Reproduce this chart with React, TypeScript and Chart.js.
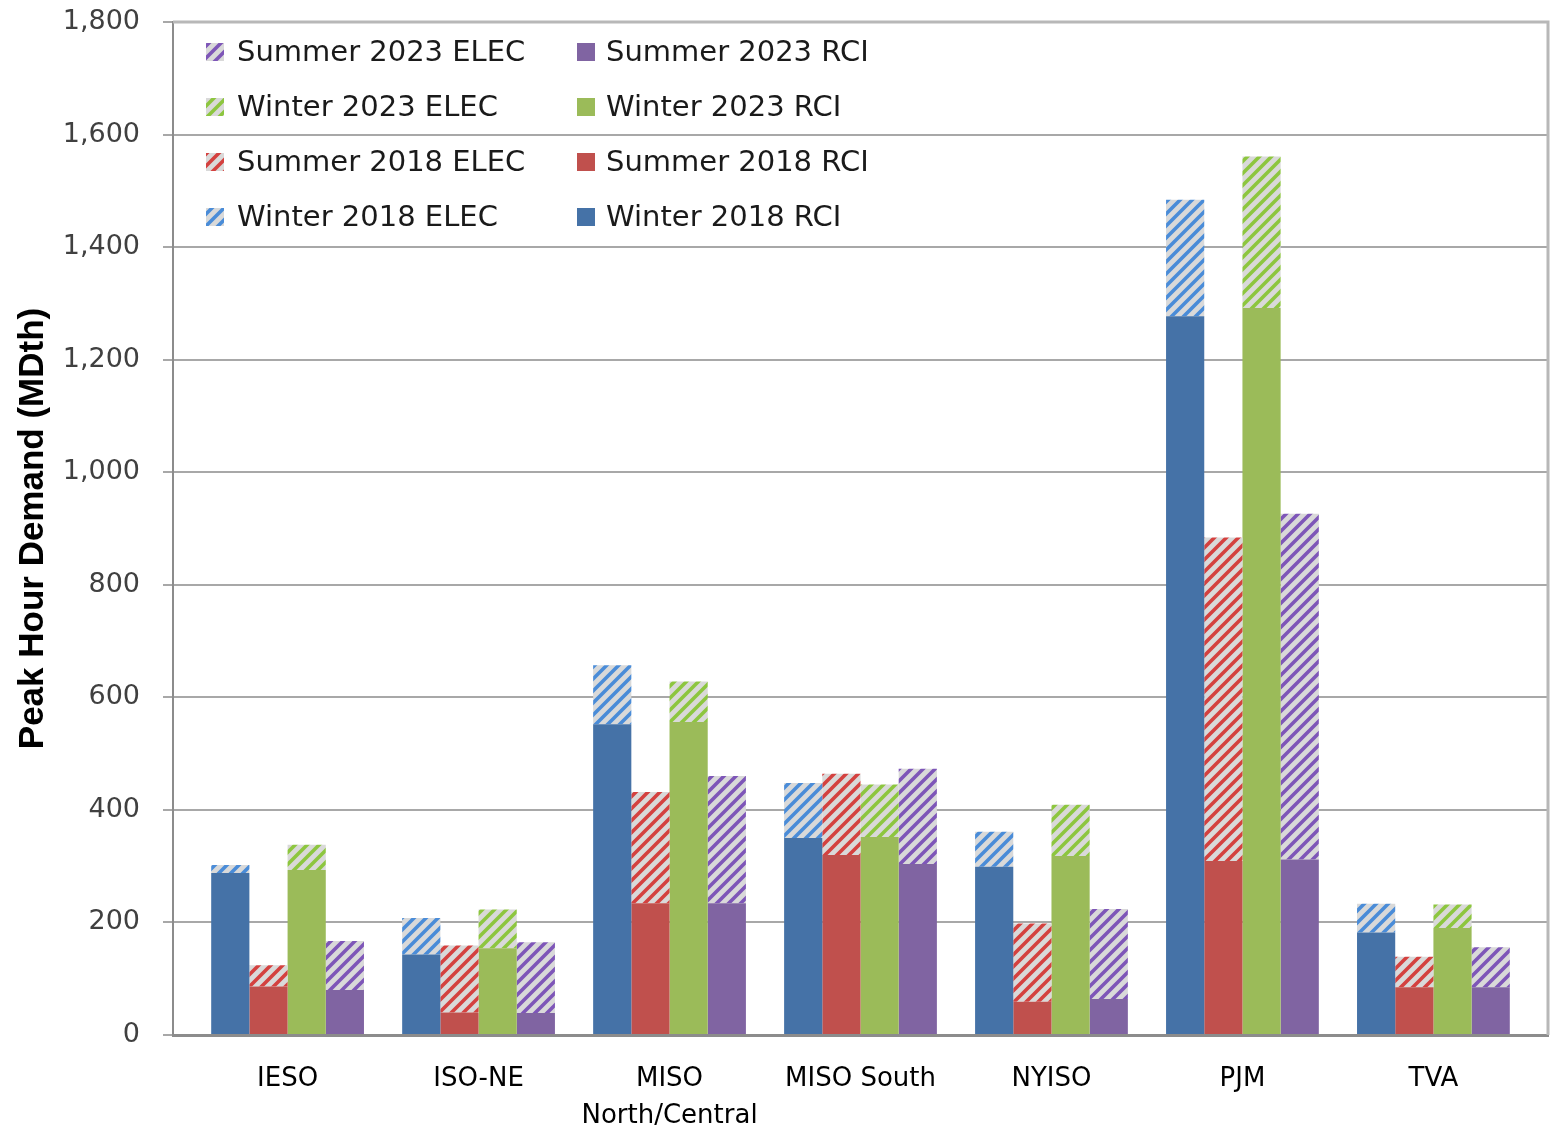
import React, { useEffect, useRef } from 'react';
import { Chart, registerables } from 'chart.js';

Chart.register(...registerables);

// ---------------- data ----------------
const CATEGORIES: (string | string[])[] = [
  'IESO',
  'ISO-NE',
  ['MISO', 'North/Central'],
  'MISO South',
  'NYISO',
  'PJM',
  'TVA',
];

const WINTER_2018_RCI = [288, 143, 552, 350, 299, 1277, 182];
const WINTER_2018_ELEC = [14, 65, 105, 98, 62, 207, 51];
const SUMMER_2018_RCI = [86, 40, 234, 320, 59, 309, 85];
const SUMMER_2018_ELEC = [38, 119, 198, 144, 139, 575, 54];
const WINTER_2023_RCI = [293, 154, 556, 352, 318, 1292, 190];
const WINTER_2023_ELEC = [45, 69, 72, 93, 91, 269, 42];
const SUMMER_2023_RCI = [80, 39, 234, 304, 64, 312, 85];
const SUMMER_2023_ELEC = [87, 126, 226, 169, 160, 614, 71];

const Y_MIN = 0;
const Y_MAX = 1800;
const Y_STEP = 200;
const Y_TITLE = 'Peak Hour Demand (MDth)';

// ---------------- styles ----------------
const BLUE = '#4572A7';
const RED = '#C0504D';
const GREEN = '#9BBB59';
const PURPLE = '#8064A2';
const BLUE_STRIPE = '#4A8CD8';
const RED_STRIPE = '#D4413F';
const GREEN_STRIPE = '#8DC63F';
const PURPLE_STRIPE = '#7E56B8';
const HATCH_BG = '#D9D9D9';

function makeHatch(color: string): CanvasPattern | string {
  const c = document.createElement('canvas');
  c.width = 12;
  c.height = 12;
  const g = c.getContext('2d');
  if (!g) return color;
  g.fillStyle = HATCH_BG;
  g.fillRect(0, 0, 12, 12);
  g.strokeStyle = color;
  g.lineWidth = 3.6;
  g.beginPath();
  for (const o of [-12, 0, 12]) {
    g.moveTo(o - 3, 15);
    g.lineTo(o + 15, -3);
  }
  g.stroke();
  const p = g.createPattern(c, 'repeat');
  return p || color;
}

const FONT = '"DejaVu Sans", "Open Sans", sans-serif';

export default function App() {
  const ref = useRef<HTMLCanvasElement | null>(null);

  useEffect(() => {
    if (!ref.current) return;

    const series = [
      { label: 'Winter 2018 RCI', data: WINTER_2018_RCI, stack: 'w18', fill: BLUE },
      { label: 'Winter 2018 ELEC', data: WINTER_2018_ELEC, stack: 'w18', fill: makeHatch(BLUE_STRIPE) },
      { label: 'Summer 2018 RCI', data: SUMMER_2018_RCI, stack: 's18', fill: RED },
      { label: 'Summer 2018 ELEC', data: SUMMER_2018_ELEC, stack: 's18', fill: makeHatch(RED_STRIPE) },
      { label: 'Winter 2023 RCI', data: WINTER_2023_RCI, stack: 'w23', fill: GREEN },
      { label: 'Winter 2023 ELEC', data: WINTER_2023_ELEC, stack: 'w23', fill: makeHatch(GREEN_STRIPE) },
      { label: 'Summer 2023 RCI', data: SUMMER_2023_RCI, stack: 's23', fill: PURPLE },
      { label: 'Summer 2023 ELEC', data: SUMMER_2023_ELEC, stack: 's23', fill: makeHatch(PURPLE_STRIPE) },
    ];

    const datasets = series.map((s) => ({
      label: s.label,
      data: s.data.map((v, i) => ({ x: i, y: v })),
      stack: s.stack,
      backgroundColor: s.fill as any,
      borderWidth: 0,
      categoryPercentage: 0.8,
      barPercentage: 1.0,
    }));

    // legend rows: [ELEC index, RCI index]
    const LEGEND_ROWS = [
      [7, 6],
      [5, 4],
      [3, 2],
      [1, 0],
    ];

    const framePlugin = {
      id: 'frame',
      afterDatasetsDraw(chart: any) {
        const { ctx, chartArea } = chart;
        ctx.save();
        ctx.strokeStyle = '#B8B8B8';
        ctx.lineWidth = 3;
        ctx.beginPath();
        ctx.moveTo(chartArea.left, chartArea.top);
        ctx.lineTo(chartArea.right, chartArea.top);
        ctx.lineTo(chartArea.right, chartArea.bottom);
        ctx.stroke();
        ctx.restore();
      },
    };

    const legendPlugin = {
      id: 'insideLegend',
      afterDraw(chart: any) {
        const { ctx, chartArea } = chart;
        const ds = chart.data.datasets;
        ctx.save();
        ctx.font = '29px ' + FONT;
        ctx.textBaseline = 'middle';
        ctx.textAlign = 'left';
        const size = 18;
        LEGEND_ROWS.forEach((pair, r) => {
          const cy = chartArea.top + 30 + r * 55;
          const cols = [
            { markX: 206, textX: 237 },
            { markX: 577, textX: 606 },
          ];
          pair.forEach((dsIndex, c) => {
            const d = ds[dsIndex];
            ctx.fillStyle = d.backgroundColor;
            ctx.fillRect(cols[c].markX, cy - size / 2, size, size);
            ctx.fillStyle = '#1A1A1A';
            ctx.fillText(d.label, cols[c].textX, cy + 1);
          });
        });
        ctx.restore();
      },
    };

    const chart = new Chart(ref.current, {
      type: 'bar',
      data: { datasets: datasets as any },
      options: {
        responsive: false,
        animation: false,
        events: [],
        layout: { padding: { top: 22, right: 16, bottom: 0, left: 0 } },
        plugins: {
          legend: { display: false },
          tooltip: { enabled: false },
        },
        scales: {
          x: {
            type: 'linear',
            stacked: true,
            offset: false,
            min: -0.6,
            max: 6.6,
            grid: { display: false, drawTicks: false, offset: false },
            border: { display: true, color: '#8C8C8C', width: 3 },
            afterBuildTicks: (scale: any) => {
              scale.ticks = CATEGORIES.map((_, i) => ({ value: i }));
            },
            afterFit: (scale: any) => {
              scale.height = 97;
              scale.paddingLeft = 0;
              scale.paddingRight = 0;
            },
            ticks: {
              autoSkip: false,
              maxRotation: 0,
              minRotation: 0,
              padding: 26,
              color: '#000000',
              font: { family: FONT, size: 26, lineHeight: 1.42 },
              callback: (value: any) => {
                const i = Math.round(Number(value));
                return CATEGORIES[i] !== undefined ? (CATEGORIES[i] as any) : '';
              },
            },
          },
          y: {
            stacked: true,
            min: Y_MIN,
            max: Y_MAX,
            grid: {
              color: '#A8A8A8',
              lineWidth: 2,
              drawTicks: true,
              tickLength: 10,
            },
            border: { display: true, color: '#8C8C8C', width: 2 },
            afterFit: (scale: any) => {
              scale.width = 173;
              scale.paddingTop = 0;
              scale.paddingBottom = 0;
            },
            ticks: {
              stepSize: Y_STEP,
              padding: 23,
              color: '#404040',
              font: { family: FONT, size: 27 },
            },
            title: {
              display: true,
              text: Y_TITLE,
              color: '#000000',
              font: { family: '"Liberation Sans", Arial, sans-serif', size: 35, weight: 'bold' },
              padding: { top: 12, bottom: 0 },
            },
          },
        },
      },
      plugins: [framePlugin, legendPlugin],
    });

    return () => chart.destroy();
  }, []);

  return (
    <div style={{ position: 'fixed', left: 0, top: 0, width: 1564, height: 1132, background: '#fff' }}>
      <canvas ref={ref} width={1564} height={1132} />
    </div>
  );
}
